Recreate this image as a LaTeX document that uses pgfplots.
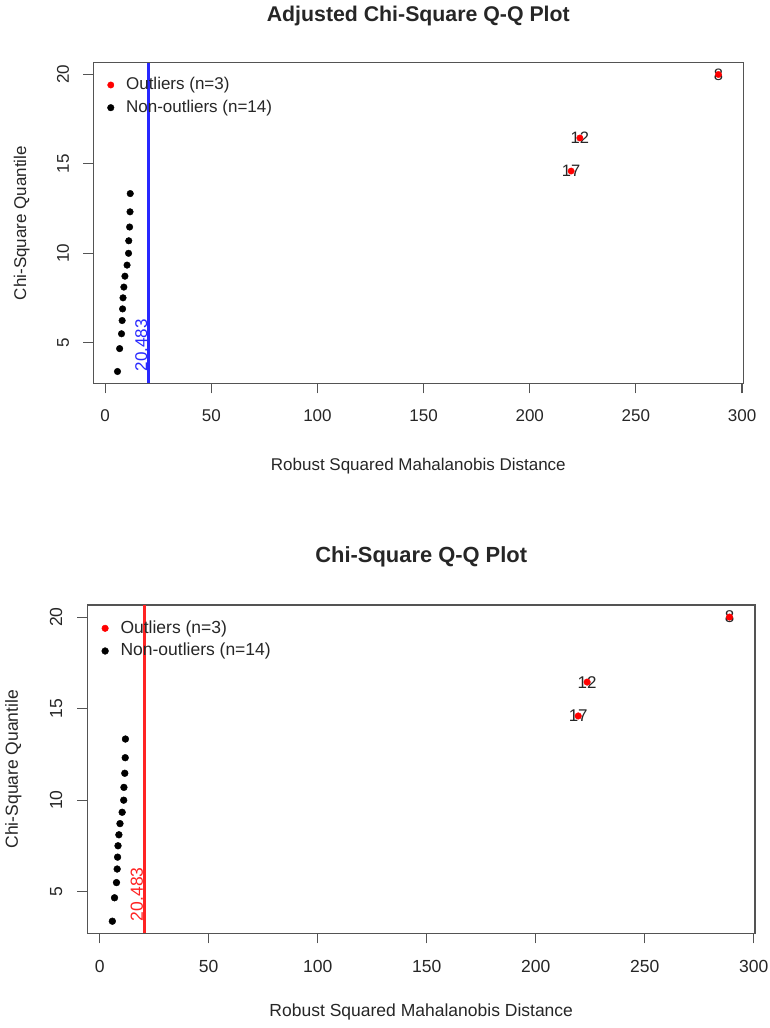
\documentclass[border=0pt]{standalone}
\usepackage{pgfplots}
\usepackage{pgfplotstable}
\pgfplotsset{compat=1.18}
\usepackage{fontspec}
\setmainfont{Liberation Sans}

\definecolor{axgray}{gray}{0.33}
\definecolor{txt}{gray}{0.15}
\definecolor{cutblue}{RGB}{40,40,255}
\definecolor{cutred}{RGB}{255,35,35}
\definecolor{outred}{RGB}{255,0,0}

% robust squared distances (x) against chi-square(10) quantiles (y)
\pgfplotstableread{
x     y
5.8   3.39
6.8   4.67
7.7   5.50
8.0   6.24
8.2   6.89
8.4   7.51
8.8   8.11
9.3   8.72
10.3  9.34
11.0  10.00
11.1  10.70
11.5  11.47
11.7  12.32
11.8  13.34
}\nonout

\pgfplotstableread{
x      y      lab
219.5  14.60  17
223.6  16.45  12
288.9  20.00  8
}\outl

\pgfplotsset{
  qq/.style={
    scale only axis, anchor=south west, clip=false,
    xmin=-5.6, xmax=300.6, ymin=2.73, ymax=20.66,
    xtick={0,50,100,150,200,250,300}, ytick={5,10,15,20},
    tick pos=left, tick align=outside, major tick length=10pt,
    axis line style={axgray, line width=1.1pt},
    tick style={axgray, line width=1.1pt},
    /pgf/number format/assume math mode=true,
    ticklabel style={text=txt, inner sep=0pt},
    yticklabel style={rotate=90, anchor=south},
    xticklabel style={anchor=north},
    legend cell align=left,
    legend image code/.code={\draw[##1] plot coordinates {(0pt,0pt)};},
  },
  qqfont/.style={
    ticklabel style={font=\fontsize{#1}{#1}\selectfont},
    label style={font=\fontsize{#1}{#1}\selectfont, text=txt},
    legend style={font=\fontsize{#1}{#1}\selectfont, text=txt},
  },
  qqlegend/.style 2 args={
    legend style={draw=none, fill=none, inner sep=0pt, outer sep=0pt,
      at={(axis description cs:#1,#2)}, anchor=north west,
      row sep=6.7pt, column sep=12pt,
      nodes={inner sep=0pt, text height=13pt, text depth=3pt}},
  },
}

\begin{document}
\begin{tikzpicture}

% ---------- adjusted cutoff ----------
\begin{axis}[qq, qqfont=17,
  at={(93.3pt,644.7pt)}, width=650pt, height=320.6pt,
  xticklabel shift=16.6pt, yticklabel shift=14pt,
  title={Adjusted Chi-Square Q-Q Plot},
  title style={at={(axis description cs:0.5,1.1279)}, anchor=center,
    font=\fontsize{21.3}{24}\selectfont\bfseries, text=txt},
  xlabel={Robust Squared Mahalanobis Distance},
  ylabel={Chi-Square Quantile},
  xlabel style={at={(axis description cs:0.5,-0.258)}, anchor=center},
  ylabel style={at={(axis description cs:-0.1102,0.5)}, anchor=center, rotate=0},
  qqlegend={0.0218}{0.9554},
]
\addplot[forget plot, only marks, mark=none, point meta=explicit symbolic,
  nodes near coords, nodes near coords align={center},
  every node near coord/.append style={anchor=center, inner sep=0pt,
    font=\fontsize{16.5}{16.5}\selectfont, text=txt}]
  table[x=x, y=y, meta=lab] {\outl};
\addplot[only marks, mark=*, mark size=3.2pt, color=outred] table[x=x, y=y] {\outl};
\addlegendentry{Outliers (n=3)}
\addplot[only marks, mark=*, mark size=3.3pt, color=black] table[x=x, y=y] {\nonout};
\addlegendentry{Non-outliers (n=14)}
\addplot[forget plot, cutblue, line width=2.4pt] coordinates {(20.483,2.73) (20.483,20.66)};
\node[rotate=90, anchor=base west, inner sep=0pt, text=cutblue,
  font=\fontsize{17}{17}\selectfont] at (axis cs:19.8,3.39) {20.483};
\end{axis}

% ---------- classical cutoff ----------
\begin{axis}[qq, qqfont=17.5,
  at={(87.5pt,94.7pt)}, width=667.5pt, height=328.3pt,
  xticklabel shift=17pt, yticklabel shift=15pt,
  title={Chi-Square Q-Q Plot},
  title style={at={(axis description cs:0.5,1.127)}, anchor=center,
    font=\fontsize{21.9}{24}\selectfont\bfseries, text=txt},
  xlabel={Robust Squared Mahalanobis Distance},
  ylabel={Chi-Square Quantile},
  xlabel style={at={(axis description cs:0.5,-0.2397)}, anchor=center},
  ylabel style={at={(axis description cs:-0.1112,0.5)}, anchor=center, rotate=0},
  qqlegend={0.0213}{0.9534},
]
\addplot[forget plot, only marks, mark=none, point meta=explicit symbolic,
  nodes near coords, nodes near coords align={center},
  every node near coord/.append style={anchor=center, inner sep=0pt,
    font=\fontsize{17}{17}\selectfont, text=txt}]
  table[x=x, y=y, meta=lab] {\outl};
\addplot[only marks, mark=*, mark size=3.3pt, color=outred] table[x=x, y=y] {\outl};
\addlegendentry{Outliers (n=3)}
\addplot[only marks, mark=*, mark size=3.4pt, color=black] table[x=x, y=y] {\nonout};
\addlegendentry{Non-outliers (n=14)}
\addplot[forget plot, cutred, line width=2.4pt] coordinates {(20.483,2.73) (20.483,20.66)};
\node[rotate=90, anchor=base west, inner sep=0pt, text=cutred,
  font=\fontsize{17.5}{17.5}\selectfont] at (axis cs:19.8,3.39) {20.483};
\end{axis}

\pgfresetboundingbox
\useasboundingbox (0,0) rectangle (770pt,1028pt);
\end{tikzpicture}
\end{document}
